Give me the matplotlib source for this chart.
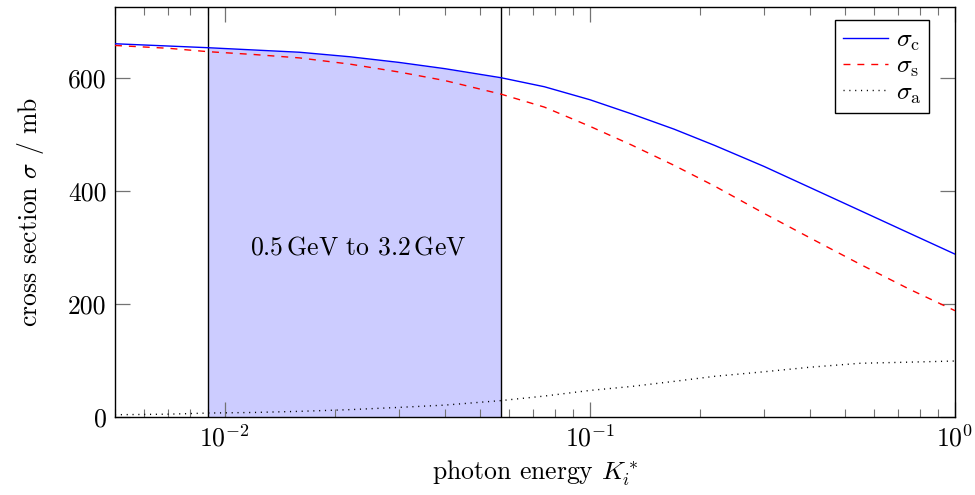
import numpy as np
import matplotlib
matplotlib.use("Agg")
import matplotlib.pyplot as plt
from matplotlib.ticker import LogLocator, NullFormatter, FixedLocator

plt.rcParams["font.family"] = "serif"
plt.rcParams["font.serif"] = ["cmr10", "DejaVu Serif"]
plt.rcParams["mathtext.fontset"] = "cm"
plt.rcParams["axes.formatter.use_mathtext"] = True
plt.rcParams["axes.unicode_minus"] = False

# photon energy K_i^* and cross sections (mb)
energy = [0.005, 0.007, 0.009, 0.012, 0.016, 0.022, 0.03, 0.04, 0.057,
          0.075, 0.1, 0.13, 0.17, 0.22, 0.3, 0.4, 0.55, 0.75, 1.0]
sigma_c = [660, 656, 653, 649, 645, 637, 627, 616, 600,
           584, 561, 536, 509, 480, 443, 406, 365, 325, 288]
sigma_s = [657, 652, 646, 641, 635, 624, 610, 595, 571,
           548, 514, 481, 445, 408, 360, 317, 270, 226, 188]
sigma_a = [4, 5, 7, 8, 10, 13, 17, 21, 29,
           37, 47, 54, 63, 72, 80, 88, 95, 97, 99]

# energy window 0.5 GeV to 3.2 GeV
window = [0.009, 0.057]
window_label = r"0.5$\,$GeV to 3.2$\,$GeV"

fs = 18.5
fig = plt.figure(figsize=(9.75, 4.95), dpi=100)
ax = fig.add_axes([115 / 975, 78 / 495, 840 / 975, 410 / 495])

E = np.array(energy)
Sc = np.array(sigma_c)
mask = (E >= window[0]) & (E <= window[1])
ax.fill_between(E[mask], 0, Sc[mask], color="#ccccff", lw=0, zorder=1)
for xv in window:
    ax.axvline(xv, color="black", lw=1.0, zorder=2)

ax.plot(energy, sigma_c, color="blue", lw=1.0, label=r"$\sigma_{\mathrm{c}}$", zorder=3)
ax.plot(energy, sigma_s, color="red", lw=1.0, ls=(0, (5, 5)),
        label=r"$\sigma_{\mathrm{s}}$", zorder=3)
ax.plot(energy, sigma_a, color="black", lw=1.0, ls=(0, (0.8, 3.4)),
        label=r"$\sigma_{\mathrm{a}}$", zorder=3)

ax.text(0.0231, 299, window_label, ha="center", va="center", fontsize=fs, zorder=4)

ax.set_xscale("log")
ax.set_xlim(0.005, 1.0)
ax.set_ylim(0, 725)
ax.xaxis.set_major_locator(FixedLocator([0.01, 0.1, 1.0]))
ax.xaxis.set_minor_locator(LogLocator(base=10, subs=np.arange(2, 10)))
ax.xaxis.set_minor_formatter(NullFormatter())
ax.set_xticks([0.01, 0.1, 1.0])
ax.set_xticklabels([r"$10^{-2}$", r"$10^{-1}$", r"$10^{0}$"])
ax.set_yticks([0, 200, 400, 600])
ax.set_yticklabels(["0", "200", "400", "600"])

ax.tick_params(which="both", direction="in", top=True, right=True,
               color="0.45", labelsize=fs)
ax.tick_params(which="major", length=11, width=0.9, pad=6)
ax.tick_params(which="minor", length=6, width=0.8)
for sp in ax.spines.values():
    sp.set_linewidth(1.0)
    sp.set_color("black")

ax.set_xlabel(r"photon energy $K_i^*$", fontsize=fs, labelpad=5)
ax.set_ylabel(r"cross section $\sigma$ / mb", fontsize=fs, labelpad=16)

leg = ax.legend(loc="upper right", bbox_to_anchor=(0.969, 0.968),
                borderaxespad=0, fontsize=fs, frameon=True, fancybox=False,
                edgecolor="black", framealpha=1, borderpad=0.3,
                handlelength=1.75, handletextpad=0.3, labelspacing=0.05)
leg.get_frame().set_linewidth(1.0)

fig.savefig("out.png", dpi=100)
